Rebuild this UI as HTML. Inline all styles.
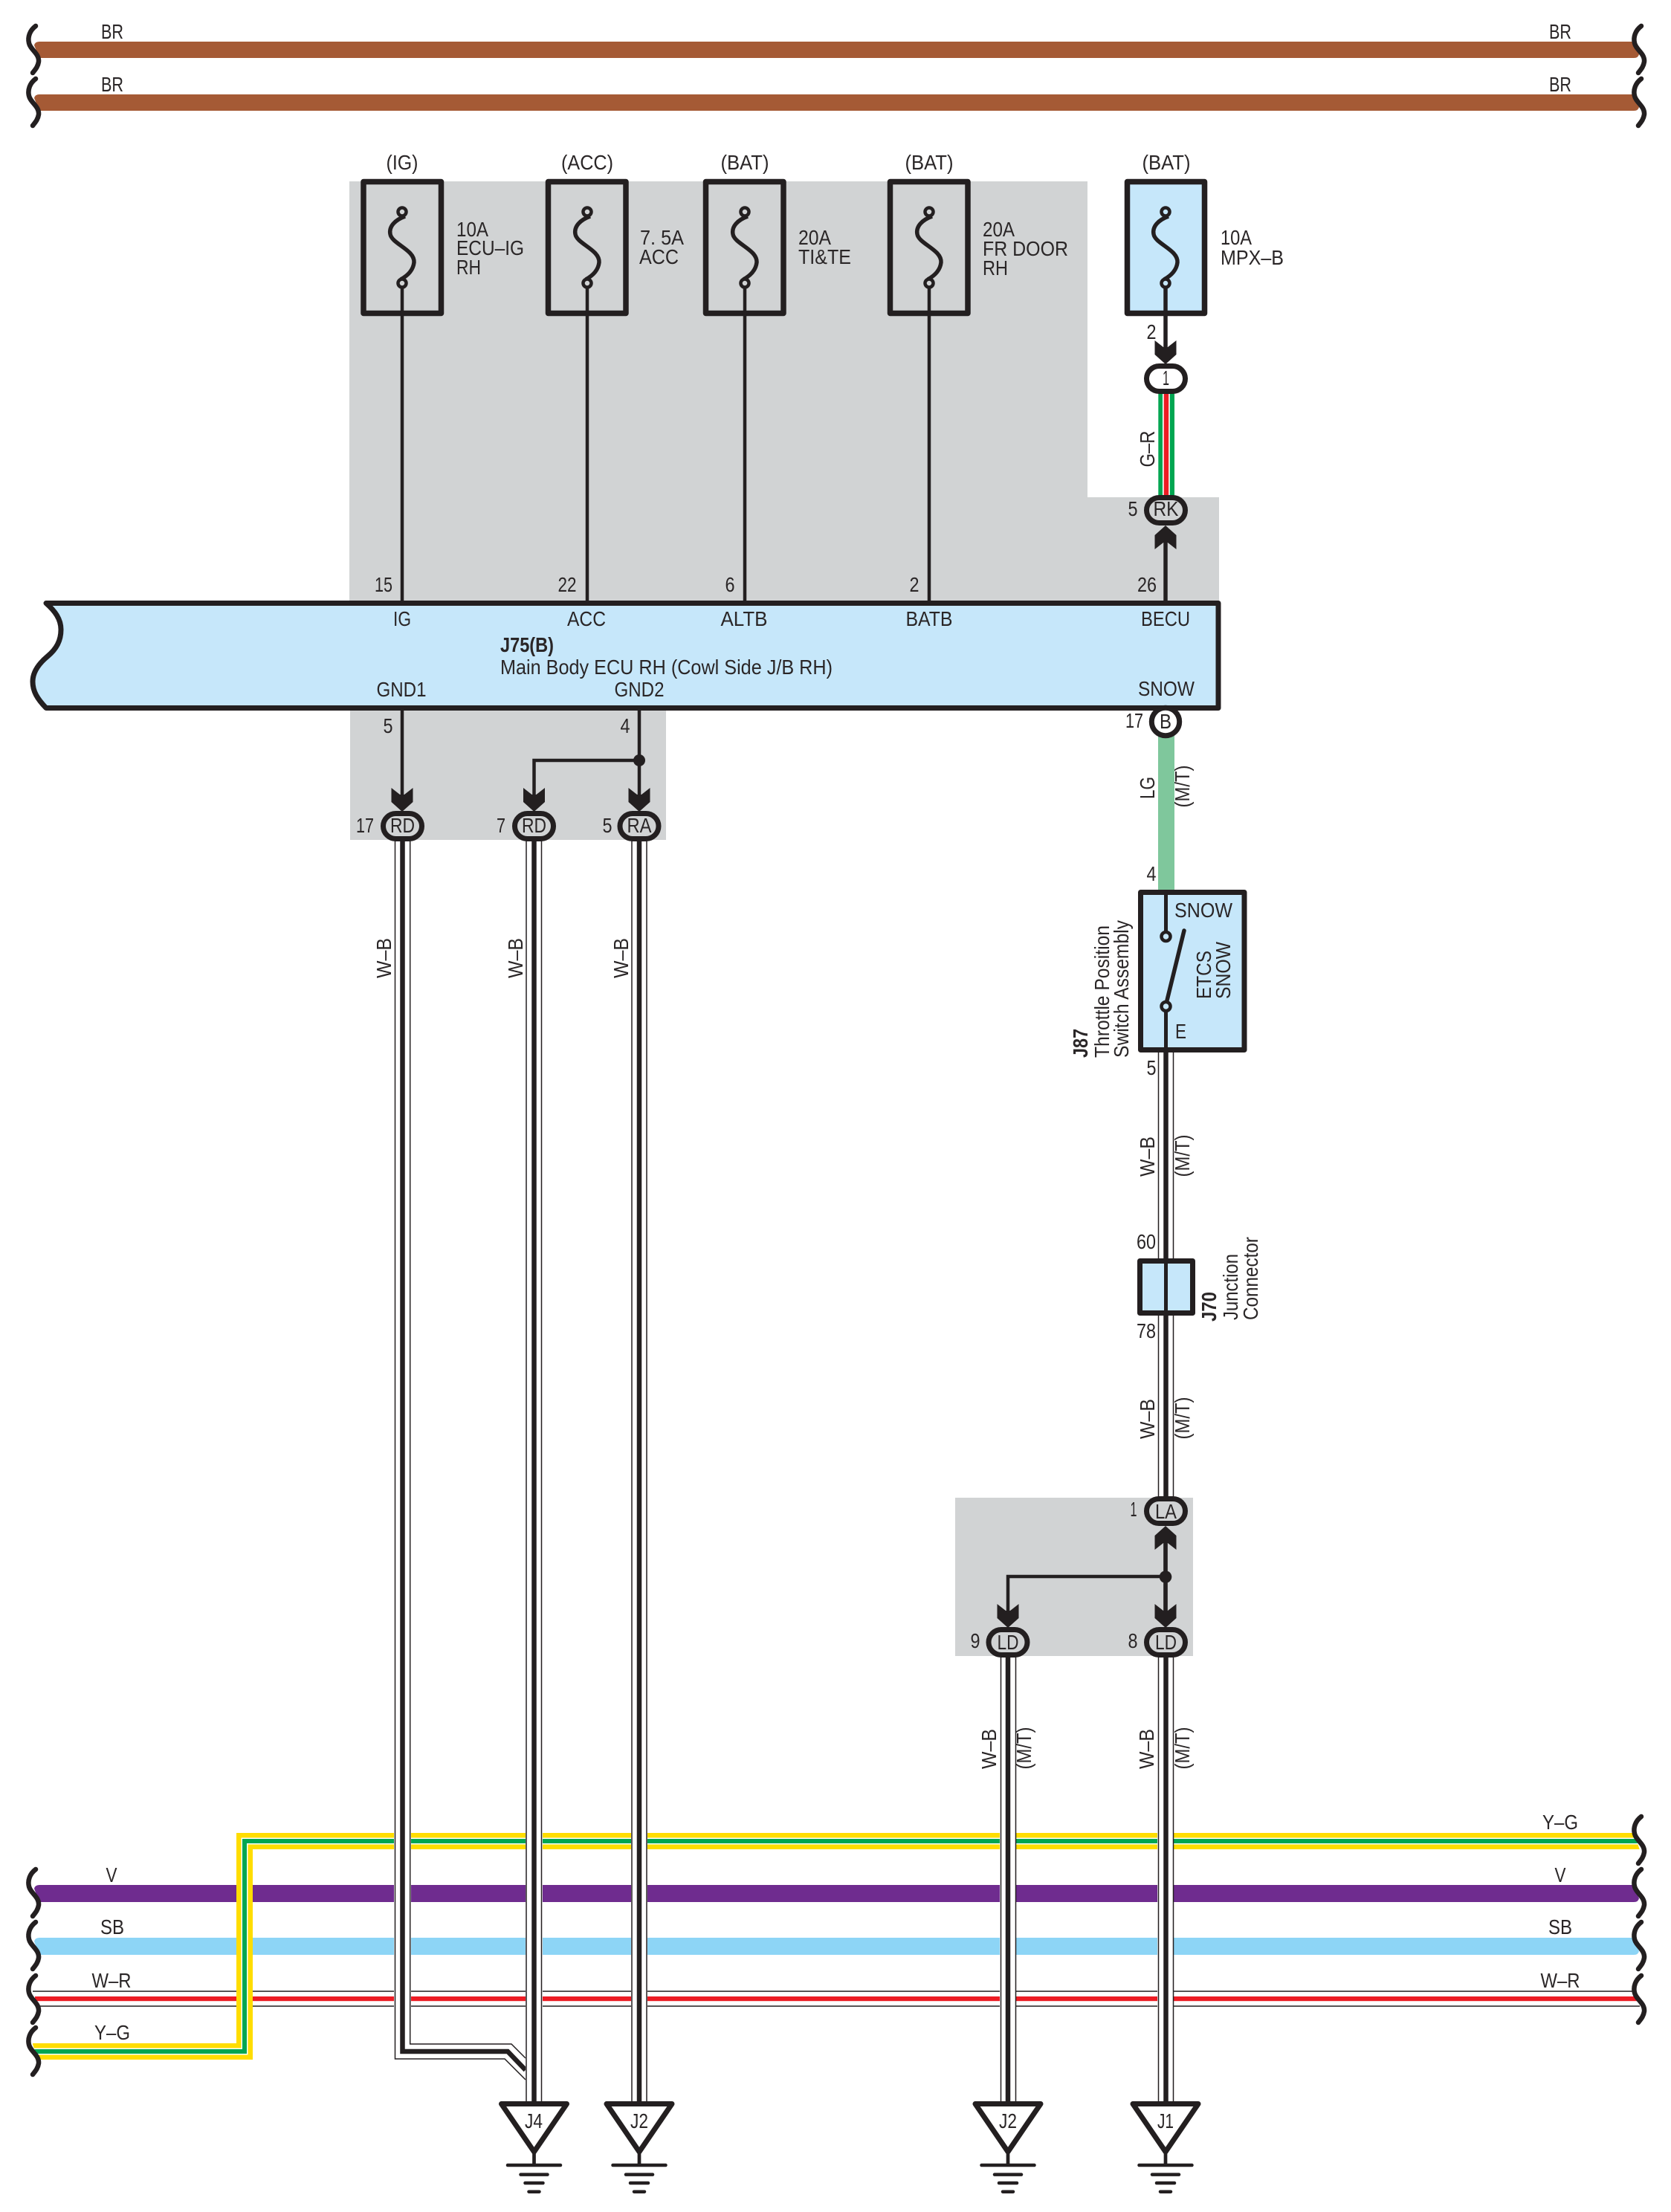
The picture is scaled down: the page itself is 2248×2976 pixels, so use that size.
<!DOCTYPE html>
<html lang="en"><head><meta charset="utf-8"><title>Wiring diagram</title>
<style>
html,body{margin:0;padding:0;background:#fff}
svg{display:block}
text{font-family:"Liberation Sans",Arial,sans-serif;font-size:27.5px;fill:#2a2627}
.m{text-anchor:middle}
.b{font-weight:bold}
</style></head><body>
<svg xmlns="http://www.w3.org/2000/svg" width="2248" height="2976" viewBox="0 0 2248 2976">
<defs>
<path id="wave" d="M48,35 C40,41 37,50 39,58 C41,67 53,72 52,83 C51,90 47,94 44,98" fill="none" stroke="#231f20" stroke-width="6.5" stroke-linecap="round"/>
<polygon id="arrow" points="-14.5,0 -14.5,19 0,32 14.5,19 14.5,0 3,9 -3,9" fill="#231f20"/>
<g id="fuse">
<path d="M4,291 C-10,296 -18,305 -16,315 C-14,328 17,336 16,353 C15,362 9,370 -2,376" fill="none" stroke="#231f20" stroke-width="5.5"/>
<circle cx="0" cy="285" r="5.5" stroke="#231f20" stroke-width="4.5"/>
<circle cx="0" cy="381" r="5.5" stroke="#231f20" stroke-width="4.5"/>
</g>
<g id="gnd">
<polygon points="-44,2830.5 44,2830.5 0,2895" fill="#fff" stroke="#231f20" stroke-width="7" stroke-linejoin="round"/>
<line x1="0" y1="2892" x2="0" y2="2913" stroke="#231f20" stroke-width="4.7"/>
<g stroke="#231f20" stroke-width="4.5" stroke-linecap="round">
<line x1="-35.5" y1="2913" x2="35.5" y2="2913"/>
<line x1="-18" y1="2925.6" x2="18" y2="2925.6"/>
<line x1="-12" y1="2937" x2="12" y2="2937"/>
<line x1="-7" y1="2948.7" x2="7" y2="2948.7"/>
</g>
</g>
</defs>

<!-- gray regions -->
<g fill="#d1d3d4">
<path d="M470,244 H1463 V669 H1640 V812 H470 Z"/>
<rect x="471" y="950" width="425" height="180"/>
<rect x="1285" y="2015" width="320" height="213"/>
</g>

<!-- top bars -->
<path d="M53,78 L46,61 Q47,56 53,56 H2197 L2205,73 Q2204,78 2198,78 Z" fill="#a55a35"/>
<path d="M53,149 L46,132 Q47,127 53,127 H2197 L2205,144 Q2204,149 2198,149 Z" fill="#a55a35"/>
<use href="#wave" y="0"/><use href="#wave" y="71"/>
<use href="#wave" x="2160" y="0"/><use href="#wave" x="2160" y="71"/>
<text class="m" x="151" y="52" textLength="30" lengthAdjust="spacingAndGlyphs">BR</text>
<text class="m" x="151" y="123" textLength="30" lengthAdjust="spacingAndGlyphs">BR</text>
<text class="m" x="2099" y="52" textLength="30" lengthAdjust="spacingAndGlyphs">BR</text>
<text class="m" x="2099" y="123" textLength="30" lengthAdjust="spacingAndGlyphs">BR</text>

<!-- lower harness bars -->
<path d="M53,2559 L46,2541 Q47,2536 53,2536 H2197 L2205,2554 Q2204,2559 2198,2559 Z" fill="#6f2c8f"/>
<path d="M53,2630 L46,2612 Q47,2607 53,2607 H2197 L2205,2625 Q2204,2630 2198,2630 Z" fill="#8dd5f6"/>
<rect x="44" y="2678.3" width="2154" height="1.5" fill="#231f20"/>
<rect x="47" y="2686" width="2158" height="6.2" fill="#ed1c24"/>
<rect x="53" y="2698.3" width="2153" height="1.5" fill="#231f20"/>
<path d="M44,2760 H329 V2477 H2208" fill="none" stroke="#ffdd00" stroke-width="22"/>
<path d="M44,2760 H329 V2477 H2208" fill="none" stroke="#fff" stroke-width="9"/>
<path d="M44,2760 H329 V2477 H2208" fill="none" stroke="#00a651" stroke-width="6"/>
<polygon points="28,2745 42,2745 53,2775 28,2775" fill="#fff"/>
<polygon points="2197,2462 2224,2462 2224,2492 2207,2492" fill="#fff"/>
<use href="#wave" y="2480"/><use href="#wave" y="2551"/><use href="#wave" y="2623"/><use href="#wave" y="2693"/>
<use href="#wave" x="2160" y="2409"/><use href="#wave" x="2160" y="2480"/><use href="#wave" x="2160" y="2551"/><use href="#wave" x="2160" y="2623"/>
<text class="m" x="150" y="2532" textLength="15" lengthAdjust="spacingAndGlyphs">V</text>
<text class="m" x="151" y="2602" textLength="32" lengthAdjust="spacingAndGlyphs">SB</text>
<text class="m" x="150" y="2674" textLength="53" lengthAdjust="spacingAndGlyphs">W–R</text>
<text class="m" x="151" y="2744" textLength="48" lengthAdjust="spacingAndGlyphs">Y–G</text>
<text class="m" x="2099" y="2461" textLength="48" lengthAdjust="spacingAndGlyphs">Y–G</text>
<text class="m" x="2099" y="2532" textLength="15" lengthAdjust="spacingAndGlyphs">V</text>
<text class="m" x="2099" y="2602" textLength="32" lengthAdjust="spacingAndGlyphs">SB</text>
<text class="m" x="2099" y="2674" textLength="53" lengthAdjust="spacingAndGlyphs">W–R</text>

<!-- fuses -->
<g fill="none" stroke="#231f20" stroke-width="7.5" stroke-linejoin="round">
<rect x="489" y="244.5" width="104.5" height="177"/>
<rect x="737.5" y="244.5" width="104.5" height="177"/>
<rect x="949.5" y="244.5" width="104.5" height="177"/>
<rect x="1197.5" y="244.5" width="104.5" height="177"/>
<rect x="1516.5" y="244.5" width="104" height="177" fill="#c6e7fa"/>
</g>
<use href="#fuse" x="541" fill="#d1d3d4"/>
<use href="#fuse" x="790" fill="#d1d3d4"/>
<use href="#fuse" x="1002" fill="#d1d3d4"/>
<use href="#fuse" x="1250" fill="#d1d3d4"/>
<use href="#fuse" x="1568" fill="#c6e7fa"/>
<g stroke="#231f20" stroke-width="4.5">
<line x1="541" y1="386" x2="541" y2="812"/>
<line x1="790" y1="386" x2="790" y2="812"/>
<line x1="1002" y1="386" x2="1002" y2="812"/>
<line x1="1250" y1="386" x2="1250" y2="812"/>
</g>
<line x1="1568" y1="386" x2="1568" y2="470" stroke="#231f20" stroke-width="5.5"/>
<line x1="1568" y1="725" x2="1568" y2="812" stroke="#231f20" stroke-width="5.5"/>

<text class="m" x="541" y="228" textLength="43" lengthAdjust="spacingAndGlyphs">(IG)</text>
<text class="m" x="790" y="228" textLength="70" lengthAdjust="spacingAndGlyphs">(ACC)</text>
<text class="m" x="1002" y="228" textLength="65" lengthAdjust="spacingAndGlyphs">(BAT)</text>
<text class="m" x="1250" y="228" textLength="65" lengthAdjust="spacingAndGlyphs">(BAT)</text>
<text class="m" x="1569" y="228" textLength="65" lengthAdjust="spacingAndGlyphs">(BAT)</text>

<text x="614" y="318" textLength="43" lengthAdjust="spacingAndGlyphs">10A</text>
<text x="614" y="343" textLength="91" lengthAdjust="spacingAndGlyphs">ECU–IG</text>
<text x="614" y="369" textLength="33" lengthAdjust="spacingAndGlyphs">RH</text>
<text x="861" y="329" textLength="59" lengthAdjust="spacingAndGlyphs">7. 5A</text>
<text x="860" y="355" textLength="53" lengthAdjust="spacingAndGlyphs">ACC</text>
<text x="1074" y="329" textLength="44" lengthAdjust="spacingAndGlyphs">20A</text>
<text x="1074" y="355" textLength="71" lengthAdjust="spacingAndGlyphs">TI&amp;TE</text>
<text x="1322" y="318" textLength="43" lengthAdjust="spacingAndGlyphs">20A</text>
<text x="1322" y="344" textLength="115" lengthAdjust="spacingAndGlyphs">FR DOOR</text>
<text x="1322" y="370" textLength="34" lengthAdjust="spacingAndGlyphs">RH</text>
<text x="1642" y="329" textLength="42" lengthAdjust="spacingAndGlyphs">10A</text>
<text x="1642" y="356" textLength="85" lengthAdjust="spacingAndGlyphs">MPX–B</text>

<text class="m" x="516" y="796" textLength="24" lengthAdjust="spacingAndGlyphs">15</text>
<text class="m" x="763" y="796" textLength="25" lengthAdjust="spacingAndGlyphs">22</text>
<text class="m" x="982" y="796" textLength="13" lengthAdjust="spacingAndGlyphs">6</text>
<text class="m" x="1230" y="796" textLength="13" lengthAdjust="spacingAndGlyphs">2</text>
<text class="m" x="1543" y="796" textLength="26" lengthAdjust="spacingAndGlyphs">26</text>

<!-- G-R wire, connectors top -->
<rect x="1558" y="525" width="22" height="145" fill="#fff"/>
<rect x="1558.3" y="525" width="5.7" height="145" fill="#00a651"/>
<rect x="1565.7" y="525" width="6.5" height="145" fill="#ed1c24"/>
<rect x="1573.8" y="525" width="6.2" height="145" fill="#00a651"/>
<use href="#arrow" x="1568" y="458"/>
<rect x="1542.5" y="492.5" width="52" height="34" rx="17" fill="#fff" stroke="#231f20" stroke-width="7"/>
<text class="m" x="1568.5" y="518" textLength="9" lengthAdjust="spacingAndGlyphs">1</text>
<text class="m" x="1549" y="456" textLength="13" lengthAdjust="spacingAndGlyphs">2</text>
<text class="m" transform="translate(1553,604) rotate(-90)" textLength="49" lengthAdjust="spacingAndGlyphs">G–R</text>
<g transform="translate(1568,739) scale(1,-1)"><use href="#arrow"/></g>
<rect x="1542.5" y="669.5" width="52" height="34" rx="17" fill="#d1d3d4" stroke="#231f20" stroke-width="7"/>
<text class="m" x="1568.5" y="694" textLength="34" lengthAdjust="spacingAndGlyphs">RK</text>
<text class="m" x="1524" y="694" textLength="13" lengthAdjust="spacingAndGlyphs">5</text>

<!-- ECU -->
<path d="M62,811.5 H1639 V952.5 H62 C50,940 44,930 44,917 C44,904 52,893 64,883 C76,873 82,862 82,847 C82,833 74,822 62,811.5 Z" fill="#c6e7fa" stroke="#231f20" stroke-width="7" stroke-linejoin="round"/>
<text class="m" x="541" y="842" textLength="24" lengthAdjust="spacingAndGlyphs">IG</text>
<text class="m" x="789" y="842" textLength="52" lengthAdjust="spacingAndGlyphs">ACC</text>
<text class="m" x="1001" y="842" textLength="63" lengthAdjust="spacingAndGlyphs">ALTB</text>
<text class="m" x="1250" y="842" textLength="63" lengthAdjust="spacingAndGlyphs">BATB</text>
<text class="m" x="1568" y="842" textLength="66" lengthAdjust="spacingAndGlyphs">BECU</text>
<text class="b" x="673" y="877" textLength="72" lengthAdjust="spacingAndGlyphs">J75(B)</text>
<text x="673" y="907" textLength="447" lengthAdjust="spacingAndGlyphs">Main Body ECU RH (Cowl Side J/B RH)</text>
<text class="m" x="540" y="937" textLength="67" lengthAdjust="spacingAndGlyphs">GND1</text>
<text class="m" x="860" y="937" textLength="67" lengthAdjust="spacingAndGlyphs">GND2</text>
<text class="m" x="1569" y="936" textLength="76" lengthAdjust="spacingAndGlyphs">SNOW</text>

<!-- ground side of ECU -->
<g stroke="#231f20" fill="none" stroke-width="4.5">
<line x1="541" y1="956" x2="541" y2="1070"/>
<line x1="860" y1="956" x2="860" y2="1070"/>
<path d="M860,1023 H718.5 V1070"/>
</g>
<ellipse cx="860" cy="1023" rx="8" ry="8" fill="#231f20"/>
<text class="m" x="522" y="986" textLength="13" lengthAdjust="spacingAndGlyphs">5</text>
<text class="m" x="841" y="986" textLength="13" lengthAdjust="spacingAndGlyphs">4</text>
<use href="#arrow" x="541" y="1060"/>
<use href="#arrow" x="718.5" y="1060"/>
<use href="#arrow" x="860" y="1060"/>

<!-- long wires -->
<g id="wires">
<!-- 541 to J4 -->
<path d="M531.5,1130 V2770 H679 L707,2798 V2769 L688,2750 H551.7 V1130 Z" fill="#fff"/>
<rect x="530" y="2460" width="23" height="245" fill="#fff"/>
<path d="M531.5,1130 V2770 H679 L707,2798" fill="none" stroke="#231f20" stroke-width="1.5"/>
<path d="M551.7,1130 V2750 H688 L707,2769" fill="none" stroke="#231f20" stroke-width="1.5"/>
<path d="M541.5,1130 V2760 H683 L707,2785" fill="none" stroke="#231f20" stroke-width="6.5"/>
<!-- 718 -->
<rect x="707" y="1130" width="23" height="1700" fill="#fff"/>
<line x1="708" y1="1130" x2="708" y2="2830" stroke="#231f20" stroke-width="1.5"/>
<line x1="728.5" y1="1130" x2="728.5" y2="2830" stroke="#231f20" stroke-width="1.5"/>
<line x1="718.5" y1="1130" x2="718.5" y2="2830" stroke="#231f20" stroke-width="6.5"/>
<!-- 860 -->
<rect x="849" y="1130" width="22" height="1700" fill="#fff"/>
<line x1="850" y1="1130" x2="850" y2="2830" stroke="#231f20" stroke-width="1.5"/>
<line x1="870" y1="1130" x2="870" y2="2830" stroke="#231f20" stroke-width="1.5"/>
<line x1="860" y1="1130" x2="860" y2="2830" stroke="#231f20" stroke-width="6.5"/>
<!-- 1356 -->
<rect x="1345" y="2228" width="22" height="602" fill="#fff"/>
<line x1="1346.5" y1="2228" x2="1346.5" y2="2830" stroke="#231f20" stroke-width="1.5"/>
<line x1="1366.5" y1="2228" x2="1366.5" y2="2830" stroke="#231f20" stroke-width="1.5"/>
<line x1="1356" y1="2228" x2="1356" y2="2830" stroke="#231f20" stroke-width="6.5"/>
<!-- 1568 bottom -->
<rect x="1557" y="2228" width="22" height="602" fill="#fff"/>
<line x1="1558.5" y1="2228" x2="1558.5" y2="2830" stroke="#231f20" stroke-width="1.5"/>
<line x1="1578.5" y1="2228" x2="1578.5" y2="2830" stroke="#231f20" stroke-width="1.5"/>
<line x1="1568.5" y1="2228" x2="1568.5" y2="2830" stroke="#231f20" stroke-width="6.5"/>
<!-- 1568 mid -->
<line x1="1558.5" y1="1412" x2="1558.5" y2="2016" stroke="#231f20" stroke-width="1.5"/>
<line x1="1578.5" y1="1412" x2="1578.5" y2="2016" stroke="#231f20" stroke-width="1.5"/>
<line x1="1568.5" y1="1412" x2="1568.5" y2="2016" stroke="#231f20" stroke-width="6.5"/>
</g>

<!-- ground connectors -->
<g fill="#d1d3d4" stroke="#231f20" stroke-width="7">
<rect x="515.5" y="1094.5" width="52" height="34" rx="17"/>
<rect x="692.5" y="1094.5" width="52" height="34" rx="17"/>
<rect x="834" y="1094.5" width="52" height="34" rx="17"/>
</g>
<text class="m" x="541.5" y="1120" textLength="33" lengthAdjust="spacingAndGlyphs">RD</text>
<text class="m" x="718.5" y="1120" textLength="33" lengthAdjust="spacingAndGlyphs">RD</text>
<text class="m" x="860" y="1120" textLength="33" lengthAdjust="spacingAndGlyphs">RA</text>
<text class="m" x="491" y="1120" textLength="24" lengthAdjust="spacingAndGlyphs">17</text>
<text class="m" x="674" y="1120" textLength="12" lengthAdjust="spacingAndGlyphs">7</text>
<text class="m" x="817" y="1120" textLength="13" lengthAdjust="spacingAndGlyphs">5</text>
<text class="m" transform="translate(526,1289) rotate(-90)" textLength="54" lengthAdjust="spacingAndGlyphs">W–B</text>
<text class="m" transform="translate(703,1289) rotate(-90)" textLength="54" lengthAdjust="spacingAndGlyphs">W–B</text>
<text class="m" transform="translate(845,1289) rotate(-90)" textLength="54" lengthAdjust="spacingAndGlyphs">W–B</text>

<!-- B connector and LG -->
<rect x="1558" y="990" width="22" height="210" fill="#7fc79c"/>
<circle cx="1568" cy="971" r="18.7" fill="#fff" stroke="#231f20" stroke-width="7"/>
<text class="m" x="1568" y="980" textLength="16" lengthAdjust="spacingAndGlyphs">B</text>
<text class="m" x="1526" y="979" textLength="24" lengthAdjust="spacingAndGlyphs">17</text>
<text class="m" transform="translate(1553,1060) rotate(-90)" textLength="30" lengthAdjust="spacingAndGlyphs">LG</text>
<text class="m" transform="translate(1600,1058) rotate(-90)" textLength="57" lengthAdjust="spacingAndGlyphs">(M/T)</text>
<text class="m" x="1549" y="1185" textLength="13" lengthAdjust="spacingAndGlyphs">4</text>

<!-- switch -->
<rect x="1534.5" y="1200.5" width="139.5" height="212" fill="#c6e7fa" stroke="#231f20" stroke-width="7" stroke-linejoin="round"/>
<line x1="1568.5" y1="1200" x2="1568.5" y2="1254" stroke="#231f20" stroke-width="5"/>
<line x1="1568.5" y1="1360" x2="1568.5" y2="1414" stroke="#231f20" stroke-width="5"/>
<line x1="1569" y1="1350" x2="1593" y2="1252" stroke="#231f20" stroke-width="5.5" stroke-linecap="round"/>
<circle cx="1568.5" cy="1260" r="6" fill="#c6e7fa" stroke="#231f20" stroke-width="4.5"/>
<circle cx="1568.5" cy="1354" r="6" fill="#c6e7fa" stroke="#231f20" stroke-width="4.5"/>
<text x="1580" y="1234" textLength="78" lengthAdjust="spacingAndGlyphs">SNOW</text>
<text x="1581" y="1397" textLength="15" lengthAdjust="spacingAndGlyphs">E</text>
<text transform="translate(1629,1344) rotate(-90)" textLength="65" lengthAdjust="spacingAndGlyphs">ETCS</text>
<text transform="translate(1655,1344) rotate(-90)" textLength="77" lengthAdjust="spacingAndGlyphs">SNOW</text>
<text class="b" transform="translate(1463,1423) rotate(-90)" textLength="39" lengthAdjust="spacingAndGlyphs">J87</text>
<text transform="translate(1492,1423) rotate(-90)" textLength="178" lengthAdjust="spacingAndGlyphs">Throttle Position</text>
<text transform="translate(1518,1423) rotate(-90)" textLength="185" lengthAdjust="spacingAndGlyphs">Switch Assembly</text>
<text class="m" x="1549" y="1446" textLength="13" lengthAdjust="spacingAndGlyphs">5</text>
<text class="m" transform="translate(1553,1556) rotate(-90)" textLength="54" lengthAdjust="spacingAndGlyphs">W–B</text>
<text class="m" transform="translate(1600,1555) rotate(-90)" textLength="57" lengthAdjust="spacingAndGlyphs">(M/T)</text>

<!-- J70 -->
<rect x="1533.5" y="1696.5" width="71" height="70" fill="#c6e7fa" stroke="#231f20" stroke-width="7" stroke-linejoin="round"/>
<line x1="1568.5" y1="1696" x2="1568.5" y2="1767" stroke="#231f20" stroke-width="5"/>
<text class="m" x="1542" y="1680" textLength="26" lengthAdjust="spacingAndGlyphs">60</text>
<text class="m" x="1542" y="1800" textLength="26" lengthAdjust="spacingAndGlyphs">78</text>
<text class="b" transform="translate(1636,1778) rotate(-90)" textLength="40" lengthAdjust="spacingAndGlyphs">J70</text>
<text transform="translate(1665,1776) rotate(-90)" textLength="89" lengthAdjust="spacingAndGlyphs">Junction</text>
<text transform="translate(1692,1776) rotate(-90)" textLength="112" lengthAdjust="spacingAndGlyphs">Connector</text>
<text class="m" transform="translate(1553,1909) rotate(-90)" textLength="54" lengthAdjust="spacingAndGlyphs">W–B</text>
<text class="m" transform="translate(1600,1908) rotate(-90)" textLength="57" lengthAdjust="spacingAndGlyphs">(M/T)</text>

<!-- LA/LD block -->
<line x1="1568" y1="2075" x2="1568" y2="2170" stroke="#231f20" stroke-width="5.7"/>
<path d="M1568,2121 H1356 V2170" fill="none" stroke="#231f20" stroke-width="4.5"/>
<circle cx="1568" cy="2121.5" r="8.3" fill="#231f20"/>
<g transform="translate(1568,2085) scale(1,-1)"><use href="#arrow"/></g>
<use href="#arrow" x="1568" y="2158"/>
<use href="#arrow" x="1356" y="2158"/>
<g fill="#d1d3d4" stroke="#231f20" stroke-width="7">
<rect x="1542.5" y="2016.5" width="52" height="33" rx="16.5"/>
<rect x="1542.5" y="2192.5" width="52" height="34" rx="17"/>
<rect x="1330" y="2192.5" width="52" height="34" rx="17"/>
</g>
<text class="m" x="1568.5" y="2043" textLength="29" lengthAdjust="spacingAndGlyphs">LA</text>
<text class="m" x="1568.5" y="2219" textLength="29" lengthAdjust="spacingAndGlyphs">LD</text>
<text class="m" x="1356" y="2219" textLength="29" lengthAdjust="spacingAndGlyphs">LD</text>
<text class="m" x="1525" y="2040" textLength="9" lengthAdjust="spacingAndGlyphs">1</text>
<text class="m" x="1312" y="2217" textLength="13" lengthAdjust="spacingAndGlyphs">9</text>
<text class="m" x="1524" y="2217" textLength="13" lengthAdjust="spacingAndGlyphs">8</text>
<text class="m" transform="translate(1340,2353) rotate(-90)" textLength="54" lengthAdjust="spacingAndGlyphs">W–B</text>
<text class="m" transform="translate(1387,2352) rotate(-90)" textLength="57" lengthAdjust="spacingAndGlyphs">(M/T)</text>
<text class="m" transform="translate(1552,2353) rotate(-90)" textLength="54" lengthAdjust="spacingAndGlyphs">W–B</text>
<text class="m" transform="translate(1600,2352) rotate(-90)" textLength="57" lengthAdjust="spacingAndGlyphs">(M/T)</text>

<!-- grounds -->
<use href="#gnd" x="718.5"/>
<use href="#gnd" x="860"/>
<use href="#gnd" x="1356"/>
<use href="#gnd" x="1568"/>
<text class="m" x="718" y="2863" textLength="24" lengthAdjust="spacingAndGlyphs">J4</text>
<text class="m" x="860" y="2863" textLength="24" lengthAdjust="spacingAndGlyphs">J2</text>
<text class="m" x="1356" y="2863" textLength="24" lengthAdjust="spacingAndGlyphs">J2</text>
<text class="m" x="1568" y="2863" textLength="22" lengthAdjust="spacingAndGlyphs">J1</text>
</svg>
</body></html>
